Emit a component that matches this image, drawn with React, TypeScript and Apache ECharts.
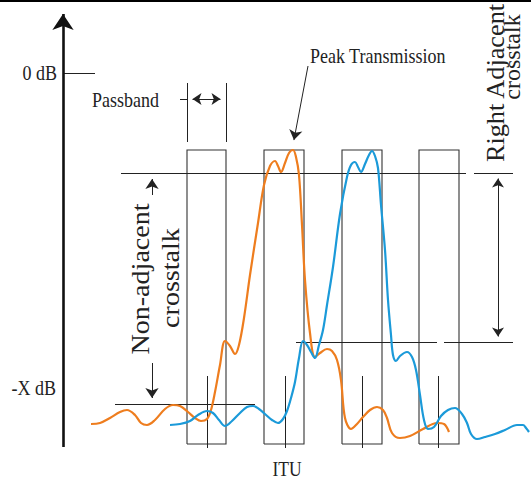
import React, { useEffect, useRef } from "react";
import * as echarts from "echarts";

// Canvas-space coordinates (x: frequency axis, y: attenuation, downward)
const orangeCurve: number[][] = [
  [91, 424], [100, 423], [110, 418], [120, 412], [127, 410], [135, 415], [141, 423], [147, 425],
  [155, 420], [165, 409], [173, 405], [180, 406], [188, 412], [195, 418], [201, 421], [207, 419],
  [211, 410], [215, 392], [220, 365], [225, 341], [230, 346], [235, 354], [239, 345], [244, 318],
  [250, 275], [258, 223], [264, 185], [270, 166], [275, 161], [278, 166], [281, 172], [285, 163],
  [289, 153], [293, 150], [296, 157], [299, 175], [302, 225], [305, 280], [310, 333], [315, 357],
  [320, 353], [327, 349], [332, 351], [337, 360], [341, 380], [345, 418], [351, 429], [357, 424],
  [363, 417], [370, 410], [377, 407], [383, 410], [387, 418], [392, 433], [400, 438], [410, 436],
  [423, 429], [437, 423], [444, 424], [449, 432],
];

const blueCurve: number[][] = [
  [170, 425], [180, 424], [190, 421], [198, 415], [207, 411], [213, 413], [219, 420], [225, 426],
  [232, 421], [240, 413], [247, 407], [253, 406], [259, 409], [265, 414], [272, 420], [278, 423],
  [283, 419], [287, 411], [291, 398], [295, 382], [299, 358], [303, 341], [307, 345], [311, 352],
  [315, 358], [319, 345], [323, 330], [327, 305], [333, 267], [340, 214], [347, 177], [351, 165],
  [355, 162], [358, 167], [361, 172], [365, 164], [369, 155], [372, 151], [375, 156], [378, 168],
  [381, 205], [385, 250], [388, 300], [391, 335], [393, 355], [396, 361], [400, 356], [407, 352],
  [412, 357], [416, 370], [420, 395], [424, 420], [428, 429], [434, 427], [441, 416], [448, 410],
  [455, 408], [462, 414], [467, 423], [471, 434], [477, 439], [485, 437], [495, 434], [505, 430],
  [517, 425], [523, 425], [526, 428], [529, 432],
];

const channelEdges: number[][] = [[187, 226], [264, 304], [342, 382], [419, 459]];
const channelTopBottom = [150, 444];
const ituMarks = [207, 285, 362, 438];
const ituTickRange = [376, 448];

const guideLines: number[][][] = [
  [[121, 173], [466, 173]],
  [[474, 173], [513, 173]],
  [[296, 342], [437, 342]],
  [[444, 342], [513, 342]],
  [[115, 404], [255, 404]],
  [[63, 73], [95, 73]],
  [[180, 99], [187, 99]],
  [[187, 83], [187, 142]],
  [[226, 83], [226, 142]],
];
const topBorder: number[][] = [[0, 1], [531, 1]];

const axisArrow: number[][] = [[63, 447], [63, 6]];
const singleArrows: number[][][] = [
  [[308, 66], [293, 145]],
  [[152, 195], [152, 174]],
  [[152, 363], [152, 403]],
];
const doubleArrows: number[][][] = [
  [[188, 99], [225, 99]],
  [[498, 174], [498, 341]],
];

const SERIF = "'Liberation Serif', 'DejaVu Serif', serif";
const INK = "#222";

function pull(from: number[], to: number[], d: number): number[] {
  const dx = to[0] - from[0];
  const dy = to[1] - from[1];
  const len = Math.hypot(dx, dy);
  return [to[0] - (dx / len) * d, to[1] - (dy / len) * d];
}

export default function App() {
  const ref = useRef<HTMLDivElement>(null);
  useEffect(() => {
    document.body.style.margin = "0";
    const chart = echarts.init(ref.current!, null, { renderer: "svg" });

    const boxes = channelEdges.map(([l, r]) => ({
      coords: [
        [l, channelTopBottom[1]], [l, channelTopBottom[0]], [r, channelTopBottom[0]],
        [r, channelTopBottom[1]], [l, channelTopBottom[1]],
      ],
    }));
    const ticks = ituMarks.map((x) => ({ coords: [[x, ituTickRange[0]], [x, ituTickRange[1]]] }));
    const guides = guideLines.map((c) => ({ coords: c }));

    const axisSize = 16;
    const smallSize = 10;
    const dblSize = 9;

    const text = (t: string, x: number, y: number, size: number, opts: any = {}) => ({
      type: "text",
      x,
      y,
      rotation: opts.rotation || 0,
      scaleX: opts.scaleX || 1,
      scaleY: opts.scaleY || 1,
      z: 100,
      style: {
        text: t,
        fill: INK,
        font: `${size}px ${SERIF}`,
        align: opts.align || "left",
        verticalAlign: "middle",
      },
    });

    chart.setOption({
      animation: false,
      backgroundColor: "#ffffff",
      grid: { left: 0, right: 0, top: 0, bottom: 0 },
      xAxis: { type: "value", min: 0, max: 531, show: false },
      yAxis: { type: "value", min: 0, max: 479, inverse: true, show: false },
      series: [
        {
          type: "lines",
          coordinateSystem: "cartesian2d",
          polyline: true,
          silent: true,
          lineStyle: { color: "#333", width: 1.1, opacity: 1 },
          data: boxes,
        },
        {
          type: "lines",
          coordinateSystem: "cartesian2d",
          silent: true,
          lineStyle: { color: INK, width: 1, opacity: 1 },
          data: [...ticks, ...guides],
        },
        {
          type: "lines",
          coordinateSystem: "cartesian2d",
          silent: true,
          lineStyle: { color: "#000", width: 2, opacity: 1 },
          data: [{ coords: topBorder }],
        },
        {
          type: "line",
          data: orangeCurve,
          showSymbol: false,
          smooth: 0.35,
          clip: false,
          lineStyle: { color: "#EE7D1E", width: 2.2 },
          z: 5,
        },
        {
          type: "line",
          data: blueCurve,
          showSymbol: false,
          smooth: 0.35,
          clip: false,
          lineStyle: { color: "#1B9AD9", width: 2.2 },
          z: 6,
        },
        {
          type: "lines",
          coordinateSystem: "cartesian2d",
          silent: true,
          symbol: ["none", "arrow"],
          symbolSize: axisSize,
          lineStyle: { color: "#111", width: 2.6, opacity: 1 },
          itemStyle: { color: "#111" },
          data: [{ coords: [axisArrow[0], pull(axisArrow[0], axisArrow[1], axisSize / 2)] }],
          z: 8,
        },
        {
          type: "lines",
          coordinateSystem: "cartesian2d",
          silent: true,
          symbol: ["none", "arrow"],
          symbolSize: smallSize,
          lineStyle: { color: INK, width: 1, opacity: 1 },
          data: singleArrows.map(([a, b]) => ({ coords: [a, pull(a, b, smallSize / 2)] })),
          z: 8,
        },
        {
          type: "lines",
          coordinateSystem: "cartesian2d",
          silent: true,
          symbol: ["arrow", "arrow"],
          symbolSize: dblSize,
          lineStyle: { color: INK, width: 1, opacity: 1 },
          data: doubleArrows.map(([a, b]) => ({
            coords: [pull(b, a, dblSize / 2), pull(a, b, dblSize / 2)],
          })),
          z: 8,
        },
      ],
      graphic: [
        text("0 dB", 57, 73, 18, { align: "right", scaleY: 1.15 }),
        text("-X dB", 56, 388, 18, { align: "right", scaleY: 1.15 }),
        text("Passband", 92, 100, 18, { scaleY: 1.15 }),
        text("Peak Transmission", 310, 56, 18, { scaleY: 1.15 }),
        text("ITU", 287, 469, 17.5, { align: "center", scaleY: 1.15 }),
        text("Non-adjacent", 140, 279, 26, { align: "center", rotation: Math.PI / 2, scaleX: 1.08 }),
        text("crosstalk", 170, 278, 26, { align: "center", rotation: Math.PI / 2, scaleX: 1.08 }),
        text("Right Adjacent", 496, 83, 25, { align: "center", rotation: Math.PI / 2, scaleX: 1.05 }),
        text("crosstalk", 512, 57, 24, { align: "center", rotation: Math.PI / 2, scaleX: 1.0 }),
      ],
    });
    return () => chart.dispose();
  }, []);
  return (
    <div
      ref={ref}
      style={{ position: "absolute", left: 0, top: 0, width: 531, height: 479 }}
    />
  );
}
